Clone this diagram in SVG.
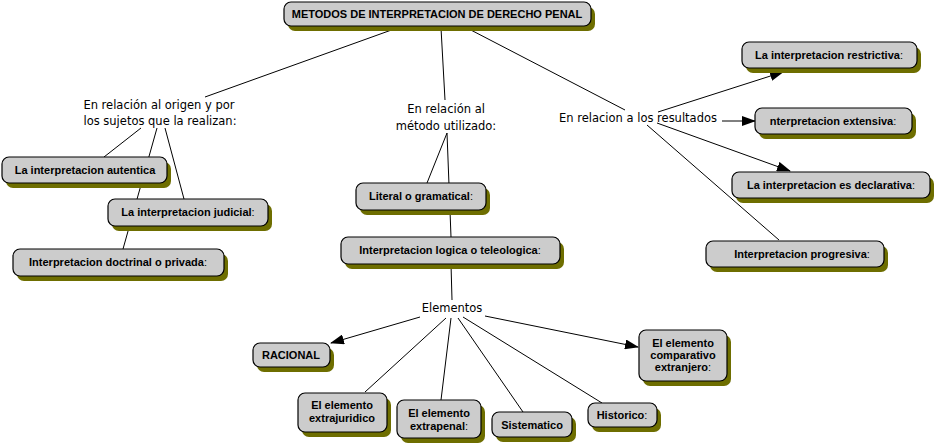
<svg xmlns="http://www.w3.org/2000/svg" width="937" height="446" viewBox="0 0 937 446">
<defs>
<style>
.sh{fill:#6e6e00}
.bx{fill:#cccccc;stroke:#000;stroke-width:1.2}
.nt{font-family:"Liberation Sans",Arial,sans-serif;font-weight:bold;font-size:11px;fill:#000;text-anchor:middle}
.c{font-weight:normal}
.lb{font-family:"DejaVu Sans",Verdana,sans-serif;font-size:11.5px;fill:#000;text-anchor:middle}
.ln{stroke:#000;stroke-width:1;fill:none}
</style>
<marker id="ar" markerUnits="userSpaceOnUse" markerWidth="14" markerHeight="10" refX="13" refY="5" orient="auto" viewBox="0 0 14 10">
<path d="M0,0 L14,5 L0,10 Z" fill="#000"/>
</marker>
</defs>
<rect width="937" height="446" fill="#fff"/>
<g id="connectors">
<line class="ln" x1="397" y1="28" x2="205" y2="97"/>
<line class="ln" x1="141" y1="128" x2="104" y2="157"/>
<line class="ln" x1="157" y1="128" x2="123" y2="249"/>
<line class="ln" x1="165" y1="128" x2="184" y2="199"/>
<line class="ln" x1="441" y1="28" x2="445" y2="100"/>
<line class="ln" x1="447" y1="133" x2="427" y2="183"/>
<line class="ln" x1="447" y1="133" x2="451" y2="237"/>
<line class="ln" x1="451" y1="264" x2="452" y2="300"/>
<line class="ln" x1="467" y1="28" x2="625" y2="110"/>
<line class="ln" x1="658" y1="112" x2="783" y2="72" marker-end="url(#ar)"/>
<line class="ln" x1="722" y1="121" x2="755" y2="121" marker-end="url(#ar)"/>
<line class="ln" x1="657" y1="123" x2="790" y2="171" marker-end="url(#ar)"/>
<line class="ln" x1="647" y1="125" x2="779" y2="240"/>
<line class="ln" x1="420" y1="317" x2="331" y2="343" marker-end="url(#ar)"/>
<line class="ln" x1="446" y1="318" x2="365" y2="392"/>
<line class="ln" x1="451" y1="318" x2="441" y2="400"/>
<line class="ln" x1="458" y1="318" x2="523" y2="412"/>
<line class="ln" x1="463" y1="317" x2="602" y2="403"/>
<line class="ln" x1="485" y1="316" x2="638" y2="347" marker-end="url(#ar)"/>
</g>
<g id="title">
<rect class="sh" x="288" y="7" width="307" height="24" rx="7"/>
<rect class="bx" x="284" y="2" width="307" height="24" rx="7"/>
<text class="nt" x="437" y="18">METODOS DE INTERPRETACION DE DERECHO PENAL</text>
</g>
<g id="lbl-origen">
<text class="lb" x="159" y="109">En relación al origen y por</text>
<text class="lb" x="160" y="125">los sujetos que la realizan:</text>
</g>
<g id="lbl-metodo">
<text class="lb" x="446" y="113">En relación al</text>
<text class="lb" x="446" y="130">método utilizado:</text>
</g>
<g id="lbl-resultados">
<text class="lb" x="638" y="122">En relacion a los resultados</text>
</g>
<g id="lbl-elementos">
<text class="lb" x="452" y="312">Elementos</text>
</g>
<g id="n-autentica">
<rect class="sh" x="6" y="162" width="165" height="26" rx="7"/>
<rect class="bx" x="2" y="157" width="165" height="26" rx="7"/>
<text class="nt" x="85" y="174">La interpretacion autentica</text>
</g>
<g id="n-judicial">
<rect class="sh" x="112" y="204" width="160" height="27" rx="7"/>
<rect class="bx" x="108" y="199" width="160" height="27" rx="7"/>
<text class="nt" x="188" y="216">La interpretacion judicial<tspan class="c">:</tspan></text>
</g>
<g id="n-doctrinal">
<rect class="sh" x="17" y="254" width="211" height="27" rx="7"/>
<rect class="bx" x="13" y="249" width="211" height="27" rx="7"/>
<text class="nt" x="118" y="266">Interpretacion doctrinal o privada<tspan class="c">:</tspan></text>
</g>
<g id="n-literal">
<rect class="sh" x="360" y="188" width="130" height="27" rx="7"/>
<rect class="bx" x="356" y="183" width="130" height="27" rx="7"/>
<text class="nt" x="421" y="200">Literal o gramatical<tspan class="c">:</tspan></text>
</g>
<g id="n-logica">
<rect class="sh" x="345" y="242" width="219" height="27" rx="7"/>
<rect class="bx" x="341" y="237" width="219" height="27" rx="7"/>
<text class="nt" x="450" y="254">Interpretacion logica o teleologica<tspan class="c">:</tspan></text>
</g>
<g id="n-restrictiva">
<rect class="sh" x="746" y="47" width="175" height="26" rx="7"/>
<rect class="bx" x="742" y="42" width="175" height="26" rx="7"/>
<text class="nt" x="829" y="59">La interpretacion restrictiva<tspan class="c">:</tspan></text>
</g>
<g id="n-extensiva">
<rect class="sh" x="759" y="113" width="157" height="26" rx="7"/>
<rect class="bx" x="755" y="108" width="157" height="26" rx="7"/>
<text class="nt" x="833" y="125">nterpretacion extensiva<tspan class="c">:</tspan></text>
</g>
<g id="n-declarativa">
<rect class="sh" x="736" y="177" width="198" height="26" rx="7"/>
<rect class="bx" x="732" y="172" width="198" height="26" rx="7"/>
<text class="nt" x="831" y="189">La interpretacion es declarativa<tspan class="c">:</tspan></text>
</g>
<g id="n-progresiva">
<rect class="sh" x="710" y="246" width="178" height="26" rx="7"/>
<rect class="bx" x="706" y="241" width="178" height="26" rx="7"/>
<text class="nt" x="802" y="258">Interpretacion progresiva<tspan class="c">:</tspan></text>
</g>
<g id="n-racional">
<rect class="sh" x="257" y="348" width="77" height="24" rx="7"/>
<rect class="bx" x="253" y="343" width="77" height="24" rx="7"/>
<text class="nt" x="291" y="359">RACIONAL</text>
</g>
<g id="n-extrajuridico">
<rect class="sh" x="302" y="398" width="89" height="39" rx="7"/>
<rect class="bx" x="298" y="393" width="89" height="39" rx="7"/>
<text class="nt" x="342" y="409">El elemento</text>
<text class="nt" x="342" y="422">extrajuridico</text>
</g>
<g id="n-extrapenal">
<rect class="sh" x="401" y="405" width="84" height="38" rx="7"/>
<rect class="bx" x="397" y="400" width="84" height="38" rx="7"/>
<text class="nt" x="439" y="417">El elemento</text>
<text class="nt" x="439" y="430">extrapenal<tspan class="c">:</tspan></text>
</g>
<g id="n-sistematico">
<rect class="sh" x="496" y="417" width="80" height="25" rx="7"/>
<rect class="bx" x="492" y="412" width="80" height="25" rx="7"/>
<text class="nt" x="532" y="429">Sistematico</text>
</g>
<g id="n-historico">
<rect class="sh" x="592" y="408" width="69" height="24" rx="7"/>
<rect class="bx" x="588" y="403" width="69" height="24" rx="7"/>
<text class="nt" x="622" y="419">Historico<tspan class="c">:</tspan></text>
</g>
<g id="n-comparativo">
<rect class="sh" x="643" y="335" width="88" height="51" rx="7"/>
<rect class="bx" x="639" y="330" width="88" height="51" rx="7"/>
<text class="nt" x="683" y="347">El elemento</text>
<text class="nt" x="683" y="359">comparativo</text>
<text class="nt" x="683" y="371">extranjero<tspan class="c">:</tspan></text>
</g>
</svg>
